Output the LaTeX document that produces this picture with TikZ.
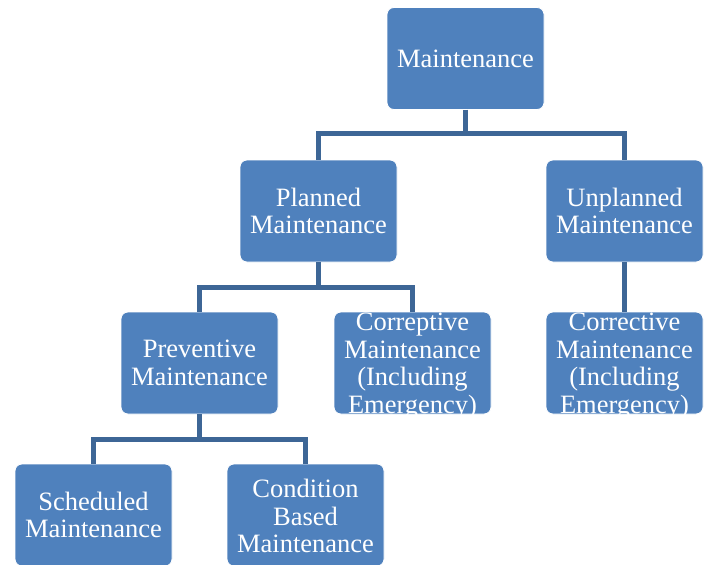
\documentclass[tikz,border=0pt]{standalone}
\usepackage{fontspec}
\setmainfont{Liberation Serif}
\definecolor{boxblue}{HTML}{4F81BD}
\definecolor{lineblue}{HTML}{3D6696}
\begin{document}
\begin{tikzpicture}[x=1pt,y=-1pt,
  box/.style={rectangle, rounded corners=7pt, fill=boxblue, draw=white, line width=0.8pt,
    minimum width=157pt, minimum height=102pt, inner sep=0pt},
  txt/.style={text=white, align=center, inner sep=0pt, font=\fontsize{26.5}{27.5}\selectfont},
  conn/.style={draw=lineblue, line width=5pt}]
\useasboundingbox (0,0) rectangle (708,564);
\node[box] (m) at (465.5,58.5) {};
\node[txt] at (m) {Maintenance};
\node[box] (p) at (318.5,211) {};
\node[txt] at (p) {Planned\\Maintenance};
\node[box] (u) at (624.5,211) {};
\node[txt] at (u) {Unplanned\\Maintenance};
\node[box] (pv) at (199.5,363) {};
\node[txt] at (pv) {Preventive\\Maintenance};
\node[box] (cp) at (412.5,363) {};
\node[txt] at ([yshift=-3]cp.center) {Correptive\\Maintenance\\(Including\\Emergency)};
\node[box] (cr) at (624.5,363) {};
\node[txt] at ([yshift=-3]cr.center) {Corrective\\Maintenance\\(Including\\Emergency)};
\node[box] (s) at (93.5,515) {};
\node[txt] at (s) {Scheduled\\Maintenance};
\node[box] (c) at (305.5,515) {};
\node[txt] at ([yshift=-1]c.center) {Condition\\Based\\Maintenance};
\draw[conn] (m.south) -- ++(0,24) -| (p.north);
\draw[conn] (m.south) -- ++(0,24) -| (u.north);
\draw[conn] (p.south) -- ++(0,25) -| (pv.north);
\draw[conn] (p.south) -- ++(0,25) -| (cp.north);
\draw[conn] (u.south) -- (cr.north);
\draw[conn] (pv.south) -- ++(0,25) -| (s.north);
\draw[conn] (pv.south) -- ++(0,25) -| (c.north);
\end{tikzpicture}
\end{document}
